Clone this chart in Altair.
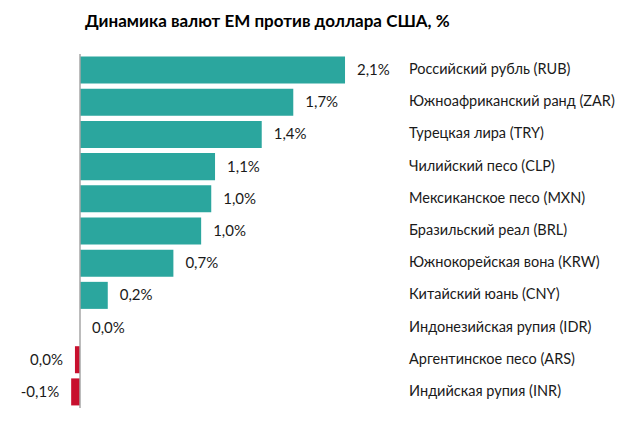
import altair as alt
import pandas as pd

categories = [
    "Российский рубль (RUB)",
    "Южноафриканский ранд (ZAR)",
    "Турецкая лира (TRY)",
    "Чилийский песо (CLP)",
    "Мексиканское песо (MXN)",
    "Бразильский реал (BRL)",
    "Южнокорейская вона (KRW)",
    "Китайский юань (CNY)",
    "Индонезийская рупия (IDR)",
    "Аргентинское песо (ARS)",
    "Индийская рупия (INR)",
]
values = [2.1, 1.69, 1.44, 1.07, 1.04, 0.96, 0.74, 0.22, 0.0, -0.04, -0.07]
value_labels = ["2,1%", "1,7%", "1,4%", "1,1%", "1,0%", "1,0%", "0,7%", "0,2%", "0,0%", "0,0%", "-0,1%"]

df = pd.DataFrame({"cat": categories, "val": values, "lab": value_labels})
df["pos"] = df["val"] >= 0

FONT = "Lato"
TEAL = "#2BA69E"
RED = "#C8102E"

W = 611
y_enc = alt.Y("cat:N", sort=categories, axis=None,
              scale=alt.Scale(paddingInner=0.16, paddingOuter=0.08))
x_scale = alt.Scale(domain=[-72 / 126.2, (W - 72) / 126.2], nice=False, zero=False)

base = alt.Chart(df)

bars = base.mark_bar().encode(
    y=y_enc,
    x=alt.X("val:Q", scale=x_scale, axis=None),
    x2=alt.datum(0),
    color=alt.Color("pos:N", scale=alt.Scale(domain=[True, False], range=[TEAL, RED]), legend=None),
)

axis_line = alt.Chart(pd.DataFrame({"z": [0]})).mark_rule(color="#A6A6A6", strokeWidth=1.5).encode(
    x=alt.X("z:Q", scale=x_scale, axis=None)
)

lab_pos = base.transform_filter("datum.val >= 0").mark_text(
    align="left", baseline="middle", dx=12, font=FONT, fontSize=15, color="#1a1a1a"
).encode(y=y_enc, x=alt.X("val:Q", scale=x_scale, axis=None), text="lab:N")

lab_neg = base.transform_filter("datum.val < 0").mark_text(
    align="right", baseline="middle", dx=-12, font=FONT, fontSize=15, color="#1a1a1a"
).encode(y=y_enc, x=alt.X("val:Q", scale=x_scale, axis=None), text="lab:N")

cat_labels = base.mark_text(
    align="left", baseline="middle", font=FONT, fontSize=14.5, color="#1a1a1a"
).encode(y=y_enc, x=alt.value(401), text="cat:N")

chart = alt.layer(bars, axis_line, lab_pos, lab_neg, cat_labels).properties(
    width=W,
    height=354,
    autosize=alt.AutoSizeParams(type="none"),
    padding={"left": 0, "top": 46, "right": 0, "bottom": 13},
    title=alt.TitleParams(
        "Динамика валют ЕМ против доллара США, %",
        anchor="start", frame="group", dx=77, offset=22,
        font=FONT, fontSize=17, fontWeight="bold", color="#000000",
    ),
).configure_view(stroke=None)

chart.save("out.html", embed_options={"renderer": "svg", "actions": False})
